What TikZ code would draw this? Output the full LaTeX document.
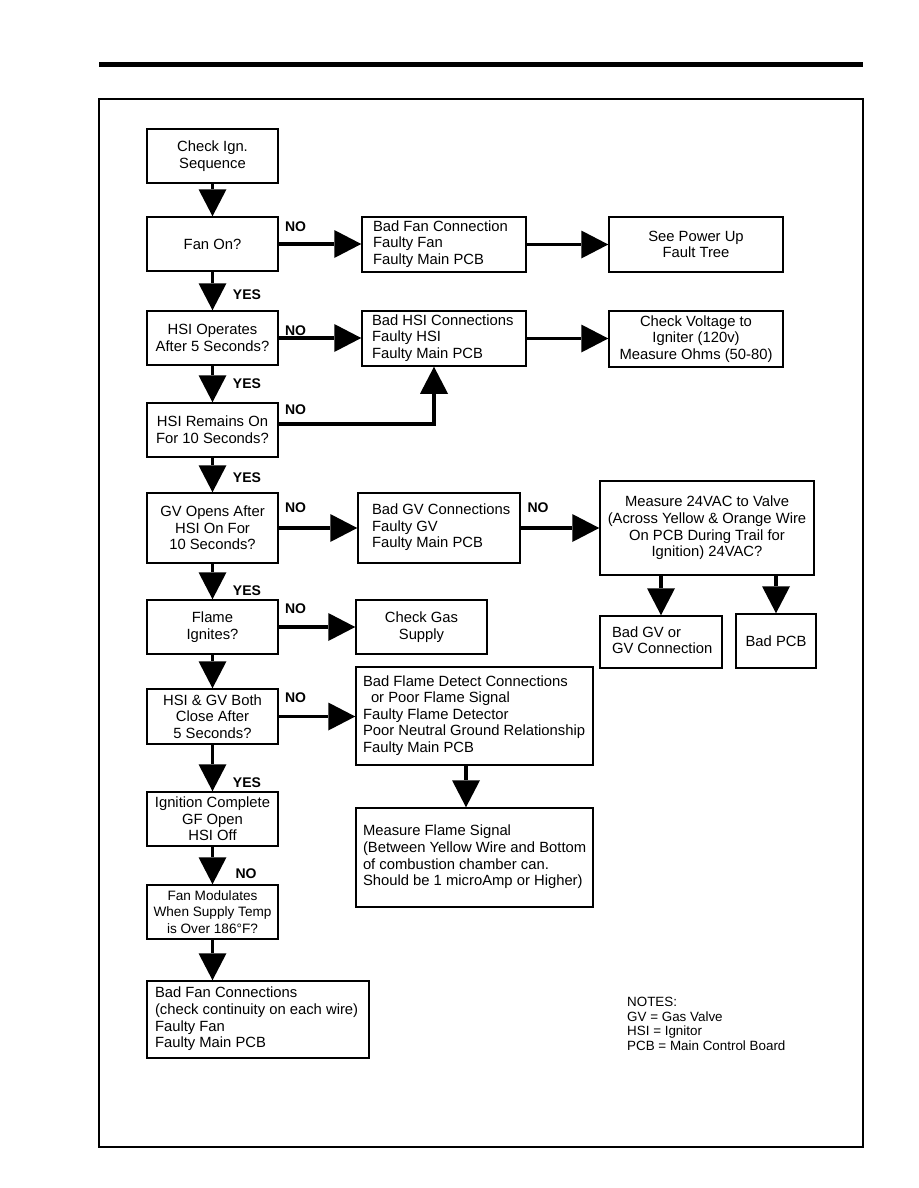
\documentclass[tikz,border=0pt]{standalone}
\usepackage{fontspec}
\setmainfont{Liberation Sans}
\usetikzlibrary{arrows.meta}
\newcommand{\lft}[2]{\makebox[#1][l]{\begin{tabular}{@{}l@{}}#2\end{tabular}}}
\tikzset{
  bx/.style={draw, line width=1.5pt, inner ysep=0pt, inner xsep=0pt,
     font=\fontsize{14.8}{16.6}\selectfont, align=center},
  conn/.style={line width=3.2pt, -{Triangle[length=27pt,width=28pt,line width=0pt]}},
  lbl/.style={font=\fontsize{14}{16}\selectfont\bfseries, inner sep=0pt},
}
\begin{document}
\begin{tikzpicture}[x=1pt,y=-1pt]
\useasboundingbox (0,0) rectangle (918,1188);
\fill[white] (0,0) rectangle (918,1188);
% top bar and frame
\fill[black] (99,62) rectangle (863,67.5);
\draw[line width=1.1pt] (99,99) rectangle (863,1147);

% left column
\node[bx, minimum width=131, minimum height=54] (chk) at (212.5,156) {Check Ign.\\Sequence};
\node[bx, minimum width=131, minimum height=54] (fan) at (212.5,244) {Fan On?};
\node[bx, minimum width=131, minimum height=54] (hsiop) at (212.5,338) {HSI Operates\\After 5 Seconds?};
\node[bx, minimum width=131, minimum height=54] (hsirem) at (212.5,430) {HSI Remains On\\For 10 Seconds?};
\node[bx, minimum width=131, minimum height=70] (gvopen) at (212.5,528) {GV Opens After\\HSI On For\\10 Seconds?};
\node[bx, minimum width=131, minimum height=54] (flame) at (212.5,627) {Flame\\Ignites?};
\node[bx, minimum width=131, minimum height=55] (hsigv) at (212.5,716.5) {HSI \& GV Both\\Close After\\5 Seconds?};
\node[bx, minimum width=131, minimum height=54] (igncomp) at (212.5,819) {Ignition Complete\\GF Open\\HSI Off};
\node[bx, minimum width=131, minimum height=54, font=\fontsize{13.6}{16.5}\selectfont] (fanmod) at (212.5,912) {Fan Modulates\\When Supply Temp\\is Over 186°F?};
\node[bx, minimum width=222, minimum height=77, inner xsep=8pt] (badfan2) at (258,1019.5)
  {\lft{206pt}{Bad Fan Connections\\(check continuity on each wire)\\Faulty Fan\\Faulty Main PCB}};

% right side
\node[bx, minimum width=164, minimum height=55, inner xsep=11pt] (badfan) at (444,244.5)
  {\lft{142pt}{Bad Fan Connection\\Faulty Fan\\Faulty Main PCB}};
\node[bx, minimum width=174, minimum height=55] (powerup) at (696,244.5) {See Power Up\\Fault Tree};
\node[bx, minimum width=164, minimum height=55, inner xsep=10pt] (badhsi) at (444,338.5)
  {\lft{144pt}{Bad HSI Connections\\Faulty HSI\\Faulty Main PCB}};
\node[bx, minimum width=174, minimum height=56] (voltage) at (696,339) {Check Voltage to\\Igniter (120v)\\Measure Ohms (50-80)};
\node[bx, minimum width=162, minimum height=70, inner xsep=14pt] (badgv) at (439,528)
  {\lft{134pt}{Bad GV Connections\\Faulty GV\\Faulty Main PCB}};
\node[bx, minimum width=214, minimum height=94] (measure) at (707,528)
  {Measure 24VAC to Valve\\(Across Yellow \& Orange Wire\\On PCB During Trail for\\Ignition) 24VAC?};
\node[bx, minimum width=131, minimum height=54] (checkgas) at (421.5,627) {Check Gas\\Supply};
\node[bx, minimum width=122, minimum height=52, inner xsep=12pt] (badgvor) at (661,642)
  {\lft{98pt}{Bad GV or\\GV Connection}};
\node[bx, minimum width=80, minimum height=54] (badpcb) at (776,641) {Bad PCB};
\node[bx, minimum width=237, minimum height=98, inner xsep=7pt] (badflame) at (474.5,716)
  {\lft{223pt}{Bad Flame Detect Connections\\\hspace{8pt}or Poor Flame Signal\\Faulty Flame Detector\\Poor Neutral Ground Relationship\\Faulty Main PCB}};
\node[bx, minimum width=237, minimum height=99, inner xsep=7pt] (mflame) at (474.5,857.5)
  {\lft{223pt}{Measure Flame Signal\\(Between Yellow Wire and Bottom\\of combustion chamber can.\\Should be 1 microAmp or Higher)}};

% notes
\node[anchor=west, inner sep=0pt, align=left, font=\fontsize{13.4}{14.7}\selectfont] (notes) at (627,1024)
  {NOTES:\\GV = Gas Valve\\HSI = Ignitor\\PCB = Main Control Board};

% labels
\node[lbl] (no1) at (295.5,227) {NO};
\node[lbl] (yes1) at (247,294.5) {YES};
\node[lbl] (no2) at (295.5,331) {NO};
\node[lbl] (yes2) at (247,384) {YES};
\node[lbl] (no3) at (295.5,410) {NO};
\node[lbl] (yes3) at (247,478) {YES};
\node[lbl] (no4) at (295.5,508) {NO};
\node[lbl] (no5) at (538,508) {NO};
\node[lbl] (yes4) at (247,591) {YES};
\node[lbl] (no6) at (295.5,609) {NO};
\node[lbl] (no7) at (295.5,698) {NO};
\node[lbl] (yes5) at (247,783) {YES};
\node[lbl] (no8) at (246,874) {NO};

% vertical connectors
\draw[conn] (chk.south) -- (fan.north);
\draw[conn] (fan.south) -- (hsiop.north);
\draw[conn] (hsiop.south) -- (hsirem.north);
\draw[conn] (hsirem.south) -- (gvopen.north);
\draw[conn] (gvopen.south) -- (flame.north);
\draw[conn] (flame.south) -- (hsigv.north);
\draw[conn] (hsigv.south) -- (igncomp.north);
\draw[conn] (igncomp.south) -- (fanmod.north);
\draw[conn] (fanmod.south) -- (fanmod.south |- badfan2.north);

% horizontal connectors
\draw[conn] (fan.east) -- (fan.east -| badfan.west);
\draw[conn] (badfan.east) -- (badfan.east -| powerup.west);
\draw[conn] (hsiop.east) -- (hsiop.east -| badhsi.west);
\draw[conn] (badhsi.east) -- (badhsi.east -| voltage.west);
\coordinate (k) at (434,424);
\draw[conn] (hsirem.east |- k) -- (k) -- (k |- badhsi.south);
\draw[conn] (gvopen.east) -- (badgv.west);
\draw[conn] (badgv.east) -- (measure.west);
\draw[conn] (flame.east) -- (checkgas.west);
\draw[conn] (hsigv.east) -- (hsigv.east -| badflame.west);
\coordinate (fd) at (466,0);
\draw[conn] (badflame.south -| fd) -- (mflame.north -| fd);
\draw[conn] (badgvor.north |- measure.south) -- (badgvor.north);
\draw[conn] (badpcb.north |- measure.south) -- (badpcb.north);
\end{tikzpicture}
\end{document}
